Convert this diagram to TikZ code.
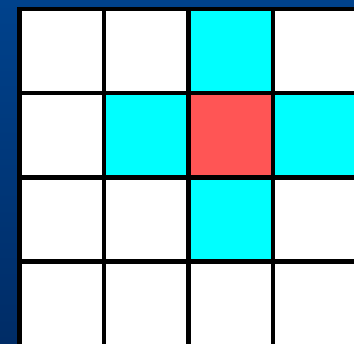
\documentclass[tikz,border=0pt]{standalone}
\definecolor{bgtop}{HTML}{00428C}
\definecolor{bgbot}{HTML}{002C66}
\definecolor{cellcyan}{HTML}{00FFFF}
\definecolor{cellred}{HTML}{FF5555}
\begin{document}
\begin{tikzpicture}[x=1pt,y=-1pt,
  cell/.style={rectangle,draw=black,line width=4.5pt,inner sep=0pt,
    minimum width=84.5pt,minimum height=84.2pt,fill=white},
  hot/.style={cell,fill=cellred},
  near/.style={cell,fill=cellcyan}]
\path[use as bounding box] (0,0) rectangle (354,344);
\clip (0,0) rectangle (354,344);
\shade[top color=bgtop,bottom color=bgbot] (0,0) rectangle (354,344);
% rows
\node[cell] (c11) at (61.75,51.1) {};
\node[cell] (c12) at (146.25,51.1) {};
\node[near] (c13) at (230.75,51.1) {};
\node[cell] (c14) at (315.25,51.1) {};
\node[cell] (c21) at (61.75,135.3) {};
\node[near] (c22) at (146.25,135.3) {};
\node[hot] (c23) at (230.75,135.3) {};
\node[near] (c24) at (315.25,135.3) {};
\node[cell] (c31) at (61.75,219.5) {};
\node[cell] (c32) at (146.25,219.5) {};
\node[near] (c33) at (230.75,219.5) {};
\node[cell] (c34) at (315.25,219.5) {};
\node[cell] (c41) at (61.75,303.7) {};
\node[cell] (c42) at (146.25,303.7) {};
\node[cell] (c43) at (230.75,303.7) {};
\node[cell] (c44) at (315.25,303.7) {};
\end{tikzpicture}
\end{document}
